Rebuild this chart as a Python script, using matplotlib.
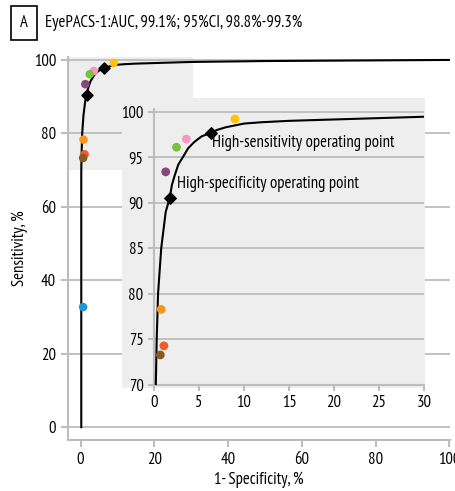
import numpy as np
import matplotlib
matplotlib.use("Agg")
import matplotlib.pyplot as plt
from matplotlib import font_manager as fm
from matplotlib.patches import Rectangle, ConnectionPatch

# condensed face (regular weight) close to the original's Myriad Condensed
regular = {f.name for f in fm.fontManager.ttflist
           if f.weight in (400, "normal", "regular") and f.style == "normal"}
FONT = "DejaVu Sans"
for cand in ["PT Sans Narrow", "Fira Sans Condensed", "Roboto Condensed",
             "Open Sans Condensed", "Barlow Semi Condensed", "Asap Condensed",
             "Archivo Narrow"]:
    if cand in regular:
        FONT = cand
        break
plt.rcParams["font.family"] = [FONT, "DejaVu Sans"]
plt.rcParams["font.weight"] = "normal"

# ROC curve (1 - specificity %, sensitivity %)
roc_fpr = [0.2, 0.2, 0.3, 0.45, 0.8, 1.3, 1.74, 2.0, 2.3, 2.7, 3.2, 3.8, 4.5,
           5.3, 6.37, 7, 8, 10, 12, 15, 20, 25, 30, 50, 75, 100]
roc_tpr = [0, 70, 75, 80, 85, 89, 90.5, 92, 93, 94.2, 95, 96, 96.7,
           97.3, 97.7, 98.0, 98.3, 98.7, 98.85, 99.0, 99.15, 99.3, 99.45,
           99.7, 99.85, 100]

# operating points
op_fpr = [1.74, 6.37]
op_tpr = [90.5, 97.7]
op_labels = ["High-specificity operating point", "High-sensitivity operating point"]

# individual graders
grader_fpr = [9.0, 3.6, 2.5, 1.3, 0.8, 1.1, 0.7, 0.7]
grader_tpr = [99.2, 97.0, 96.1, 93.4, 78.3, 74.3, 73.3, 32.7]
grader_colors = ["#FFC20E", "#F49AC1", "#7AC143", "#87457A", "#F7941D",
                 "#F15A29", "#8B5A1E", "#1B9AD6"]

title = "EyePACS-1:AUC, 99.1%; 95%CI, 98.8%-99.3%"

GRID = "#BDBDBD"
SHADE = "#EEEEEE"
W, H = 456, 491
FS = 12

fig = plt.figure(figsize=(4.56, 4.91), dpi=100)


def px(l, t, r, b):
    return [l / W, 1 - b / H, (r - l) / W, (b - t) / H]


# ── main axes ───────────────────────────────────────────────────────────
ax = fig.add_axes(px(68, 57, 450, 440))
ax.set_xlim(-3.4, 100.2)
ax.set_ylim(-3.5, 100.8)
for s in ["top", "right"]:
    ax.spines[s].set_visible(False)
for s in ["left", "bottom"]:
    ax.spines[s].set_color(GRID)
    ax.spines[s].set_linewidth(1.5)
ax.set_xticks(range(0, 101, 20))
ax.set_yticks(range(0, 101, 20))
ax.tick_params(colors=GRID, labelcolor="black", labelsize=FS, length=5, width=1.5)
ax.grid(axis="y", color=GRID, linewidth=1.3, zorder=1)
ax.set_axisbelow(True)
ax.add_patch(Rectangle((-3.4, 70), 33.9, 31, color=SHADE, zorder=0, lw=0))
ax.plot(roc_fpr, roc_tpr, color="black", lw=1.5, zorder=3)
ax.scatter(grader_fpr, grader_tpr, c=grader_colors, s=38, zorder=4, lw=0)
ax.scatter(op_fpr, op_tpr, marker="D", color="black", s=32, zorder=5)
ax.set_xlabel("1- Specificity, %", fontsize=FS, labelpad=3)
ax.set_ylabel("Sensitivity, %", fontsize=FS, labelpad=4)

# ── inset ──────────────────────────────────────────────────────────────
bg = fig.add_axes(px(122, 98, 425, 388))
bg.set_facecolor(SHADE)
bg.set_xticks([]); bg.set_yticks([])
for s in bg.spines.values():
    s.set_visible(False)

ins = fig.add_axes(px(154, 109, 424, 385))
ins.set_facecolor("none")
ins.set_xlim(0, 30)
ins.set_ylim(70, 100.3)
for s in ["top", "right"]:
    ins.spines[s].set_visible(False)
for s in ["left", "bottom"]:
    ins.spines[s].set_color(GRID)
    ins.spines[s].set_linewidth(1.5)
ins.set_xticks(range(0, 31, 5))
ins.set_yticks(range(70, 101, 5))
ins.tick_params(colors=GRID, labelcolor="black", labelsize=FS, length=4, width=1.5)
ins.grid(axis="y", color=GRID, linewidth=1.3, zorder=1)
ins.set_axisbelow(True)
ins.plot(roc_fpr, roc_tpr, color="black", lw=1.5, zorder=3)
ins.scatter(grader_fpr[:-1], grader_tpr[:-1], c=grader_colors[:-1], s=40, zorder=4, lw=0)
ins.scatter(op_fpr, op_tpr, marker="D", color="black", s=34, zorder=5)
ins.text(op_fpr[0] + 0.8, op_tpr[0] + 0.7, op_labels[0], fontsize=FS, va="bottom")
ins.text(op_fpr[1] + 0.1, op_tpr[1] - 0.3, op_labels[1], fontsize=FS, va="top")

# dashed connectors between the shaded region and the inset
for (xa, ya), (xb, yb) in [((31.5, 99.8), (30, 100.2)), ((-3, 70), (0, 70))]:
    con = ConnectionPatch((xa, ya), (xb, yb), coordsA=ax.transData,
                          coordsB=ins.transData, color=GRID, lw=1.2,
                          linestyle=(0, (4, 3)), zorder=0)
    fig.add_artist(con)

# ── panel title ────────────────────────────────────────────────────────
fig.text(24 / W, 1 - 23 / H, "A", fontsize=FS, ha="center", va="center",
         bbox=dict(boxstyle="square,pad=0.55", fc="white", ec="black", lw=1.2))
fig.text(45 / W, 1 - 23 / H, title, fontsize=FS, ha="left", va="center")

fig.savefig("out.png", dpi=100)
